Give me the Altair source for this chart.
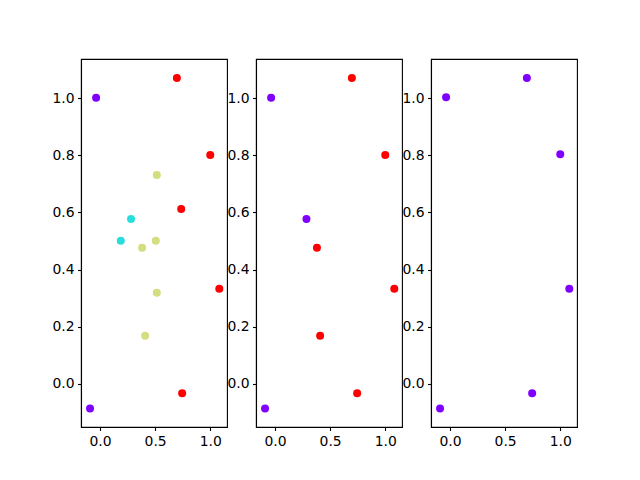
import altair as alt
import pandas as pd

# Panel 1: four groups
p1_x = [-0.036, -0.091, 0.697, 1.000, 0.736, 1.082, 0.745, 0.281, 0.188, 0.515, 0.506, 0.382, 0.515, 0.409]
p1_y = [1.002, -0.0875, 1.071, 0.8015, 0.6125, 0.3325, -0.034, 0.5775, 0.5005, 0.7315, 0.5005, 0.476, 0.3185, 0.168]
p1_lab = [0, 0, 3, 3, 3, 3, 3, 1, 1, 2, 2, 2, 2, 2]
p1_pal = ["#8000ff", "#2adddd", "#d4dd80", "#ff0000"]

# Panel 2: two groups
p2_x = [-0.036, -0.091, 0.285, 0.697, 1.000, 0.380, 1.082, 0.409, 0.745]
p2_y = [1.002, -0.0875, 0.5775, 1.071, 0.8015, 0.476, 0.3325, 0.168, -0.034]
p2_lab = [0, 0, 0, 1, 1, 1, 1, 1, 1]
p2_pal = ["#8000ff", "#ff0000"]

# Panel 3: one group
p3_x = [-0.036, 0.697, 1.000, 1.082, 0.745, -0.091]
p3_y = [1.004, 1.071, 0.8040, 0.3325, -0.034, -0.0875]
p3_lab = [0, 0, 0, 0, 0, 0]
p3_pal = ["#8000ff"]

x_ticks = [0.0, 0.5, 1.0]
y_ticks = [0.0, 0.2, 0.4, 0.6, 0.8, 1.0]
x_dom = [-0.173, 1.152]
y_dom = [-0.152, 1.138]


def panel(xs, ys, labs, pal):
    df = pd.DataFrame({"x": xs, "y": ys, "c": [pal[l] for l in labs]})
    return alt.Chart(df).mark_circle(size=64, opacity=1).encode(
        x=alt.X("x:Q", scale=alt.Scale(domain=x_dom, nice=False, zero=False),
                axis=alt.Axis(values=x_ticks, format=".1f", title=None)),
        y=alt.Y("y:Q", scale=alt.Scale(domain=y_dom, nice=False, zero=False),
                axis=alt.Axis(values=y_ticks, format=".1f", title=None)),
        color=alt.Color("c:N", scale=None),
    ).properties(width=146, height=368)


chart = alt.HConcatChart(
    hconcat=[panel(p1_x, p1_y, p1_lab, p1_pal),
             panel(p2_x, p2_y, p2_lab, p2_pal),
             panel(p3_x, p3_y, p3_lab, p3_pal)],
    spacing=29,
    bounds="flush",
).properties(
    padding={"left": 43, "top": 50, "right": 5, "bottom": 5},
    background="white",
).configure_view(
    stroke="black", strokeWidth=1.1
).configure_axis(
    grid=False,
    domainColor="black", domainWidth=1.1,
    tickColor="black", tickWidth=1.1, tickSize=3.5,
    labelColor="black", labelFont="DejaVu Sans", labelFontSize=13.9,
    labelPadding=3.5,
)

chart.save("out.html", embed_options={"renderer": "svg", "actions": False})
